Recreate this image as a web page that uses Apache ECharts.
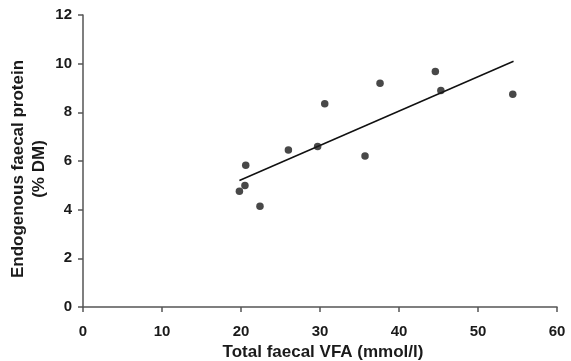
<!DOCTYPE html>
<html>
<head>
<meta charset="utf-8">
<script src="https://cdn.jsdelivr.net/npm/echarts@6/dist/echarts.min.js"></script>
<style>
  html, body { margin: 0; padding: 0; background: #fff; }
  #chart { width: 571px; height: 361px; }
</style>
</head>
<body>
<div id="chart"></div>
<script>
// measured points: total faecal VFA (mmol/l) vs endogenous faecal protein (% DM)
const vfa = [19.8, 20.5, 20.6, 22.4, 26.0, 29.7, 30.6, 35.7, 37.6, 44.6, 45.3, 54.4];
const protein = [4.76, 4.99, 5.83, 4.14, 6.45, 6.6, 8.35, 6.21, 9.2, 9.68, 8.9, 8.74];
// fitted regression line end points
const fitX = [19.8, 54.5];
const fitY = [5.2, 10.1];

const font = 'Liberation Sans, Arial, Helvetica, sans-serif';
const axisColor = '#555';

var myChart = echarts.init(document.getElementById('chart'));
myChart.setOption({
  animation: false,
  textStyle: { fontFamily: font },
  grid: { left: 83, right: 14, top: 15, bottom: 54, containLabel: false, outerBoundsMode: 'none' },
  xAxis: {
    type: 'value',
    min: 0, max: 60, interval: 10,
    name: 'Total faecal VFA (mmol/l)',
    nameLocation: 'middle',
    nameGap: 37,
    nameMoveOverlap: false,
    nameTextStyle: { fontSize: 17, fontWeight: 'bold', color: '#1a1a1a', padding: [0, 0, 0, 6] },
    splitLine: { show: false },
    axisLine: { lineStyle: { color: axisColor, width: 1.5 } },
    axisTick: { length: 5, lineStyle: { color: axisColor, width: 1.5 } },
    axisLabel: { fontSize: 15, fontWeight: 'bold', color: '#1a1a1a', margin: 17 }
  },
  yAxis: {
    type: 'value',
    min: 0, max: 12, interval: 2,
    name: 'Endogenous faecal protein\n(% DM)',
    nameLocation: 'middle',
    nameGap: 33,
    nameMoveOverlap: false,
    nameTextStyle: { fontSize: 17, fontWeight: 'bold', color: '#1a1a1a', lineHeight: 21, padding: [0, 16, 0, 0] },
    splitLine: { show: false },
    axisLine: { show: true, lineStyle: { color: axisColor, width: 1.5 } },
    axisTick: { show: true, length: 5, lineStyle: { color: axisColor, width: 1.5 } },
    axisLabel: { fontSize: 15, fontWeight: 'bold', color: '#1a1a1a', margin: 11 }
  },
  series: [
    {
      type: 'line',
      data: fitX.map((x, i) => [x, fitY[i]]),
      symbol: 'none',
      lineStyle: { color: '#111', width: 1.5 },
      z: 1
    },
    {
      type: 'scatter',
      data: vfa.map((x, i) => [x, protein[i]]),
      symbol: 'circle',
      symbolSize: 7.5,
      itemStyle: { color: '#1a1a1a' },
      z: 2
    }
  ]
});
</script>
</body>
</html>
